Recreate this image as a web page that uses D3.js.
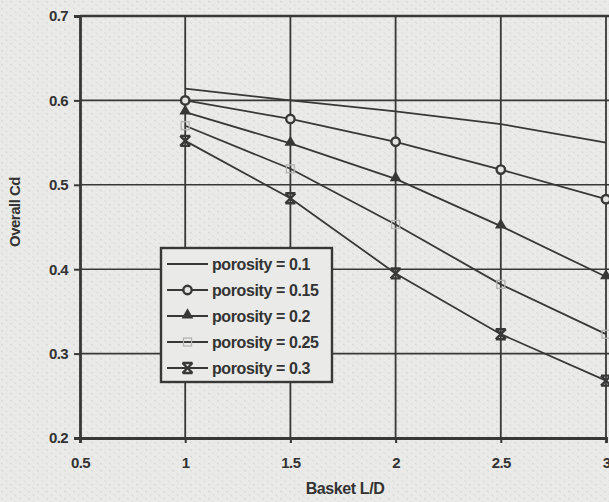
<!DOCTYPE html>
<html>
<head>
<meta charset="utf-8">
<script src="https://cdn.jsdelivr.net/npm/d3@7"></script>
<style>
  body { margin: 0; background: #e8e8e6; }
  text { font-family: "Liberation Sans", Arial, sans-serif; font-weight: bold; fill: #333333; }
</style>
</head>
<body>
<div id="chart"></div>
<script>
// Basket L/D values
var ld = [1, 1.5, 2, 2.5, 3];
var xTicks = [0.5, 1, 1.5, 2, 2.5, 3];
var yTicks = [0.2, 0.3, 0.4, 0.5, 0.6, 0.7];

// Overall Cd for each porosity
var por010 = [0.614, 0.600, 0.587, 0.572, 0.550];
var por015 = [0.600, 0.578, 0.551, 0.518, 0.483];
var por020 = [0.586, 0.549, 0.507, 0.451, 0.391];
var por025 = [0.570, 0.519, 0.453, 0.382, 0.323];
var por030 = [0.552, 0.484, 0.395, 0.323, 0.268];

var seriesNames = ["porosity = 0.1", "porosity = 0.15", "porosity = 0.2", "porosity = 0.25", "porosity = 0.3"];
var seriesValues = [por010, por015, por020, por025, por030];
var markers = ["none", "circle", "triangle", "square", "star"];

function init() {
    var w = 609;
    var h = 502;

    var svg = d3.select("#chart")
                .append("svg")
                .attr("width", w)
                .attr("height", h);

    // scanned paper texture
    var defs = svg.append("defs");
    var pat = defs.append("pattern")
        .attr("id", "paper")
        .attr("width", 9)
        .attr("height", 7)
        .attr("patternUnits", "userSpaceOnUse");
    pat.append("rect").attr("width", 9).attr("height", 7).attr("fill", "#eaeae8");
    pat.append("line")
        .attr("x1", 1).attr("y1", 1).attr("x2", 3).attr("y2", 2.5)
        .attr("stroke", "#d4d4d2").attr("stroke-width", 1);
    pat.append("line")
        .attr("x1", 5.5).attr("y1", 4.5).attr("x2", 7.5).attr("y2", 6)
        .attr("stroke", "#d8d8d6").attr("stroke-width", 1);

    svg.append("rect")
        .attr("width", w).attr("height", h)
        .attr("fill", "url(#paper)");

    var xScale = d3.scaleLinear().domain([0.5, 3]).range([80, 606]);
    var yScale = d3.scaleLinear().domain([0.2, 0.7]).range([438, 16]);

    var ink = "#383838";

    // gridlines
    svg.append("g").selectAll("line")
        .data(yTicks.slice(1))
        .enter().append("line")
        .attr("x1", xScale(0.5)).attr("x2", w)
        .attr("y1", function(d) { return yScale(d); })
        .attr("y2", function(d) { return yScale(d); })
        .attr("stroke", ink)
        .attr("stroke-width", function(d) { return d === 0.7 ? 2.5 : 1.6; });

    svg.append("g").selectAll("line")
        .data(xTicks.slice(1))
        .enter().append("line")
        .attr("x1", function(d) { return xScale(d); })
        .attr("x2", function(d) { return xScale(d); })
        .attr("y1", yScale(0.7)).attr("y2", yScale(0.2))
        .attr("stroke", ink)
        .attr("stroke-width", 1.8);

    // axes
    var xAxis = d3.axisBottom(xScale).tickValues(xTicks)
        .tickFormat(d3.format("")).tickSize(5).tickPadding(14);
    var yAxis = d3.axisLeft(yScale).tickValues(yTicks)
        .tickFormat(d3.format(".1f")).tickSize(6).tickPadding(6);

    var gx = svg.append("g")
        .attr("transform", "translate(0," + yScale(0.2) + ")")
        .call(xAxis);
    var gy = svg.append("g")
        .attr("transform", "translate(" + xScale(0.5) + ",0)")
        .call(yAxis);

    [gx, gy].forEach(function(g) {
        g.select(".domain").attr("stroke", ink).attr("stroke-width", 2.8);
        g.selectAll(".tick line").attr("stroke", ink).attr("stroke-width", 2);
        g.selectAll(".tick text")
            .style("font-family", "'Liberation Sans', Arial, sans-serif")
            .style("font-weight", "bold")
            .style("font-size", "15px")
            .style("letter-spacing", "-0.6px")
            .attr("fill", "#333333");
    });

    // axis titles
    svg.append("text")
        .attr("x", 345).attr("y", 494)
        .attr("text-anchor", "middle")
        .style("font-size", "16px")
        .style("letter-spacing", "-0.4px")
        .text("Basket L/D");

    svg.append("text")
        .attr("transform", "translate(20,212) rotate(-90)")
        .attr("text-anchor", "middle")
        .style("font-size", "15px")
        .style("letter-spacing", "-0.5px")
        .text("Overall Cd");

    var line = d3.line()
        .x(function(d, i) { return xScale(ld[i]); })
        .y(function(d) { return yScale(d); });

    function drawMarker(g, type, x, y) {
        if (type === "circle") {
            g.append("circle").attr("cx", x).attr("cy", y).attr("r", 4.2)
                .attr("fill", "#e4e4e2").attr("stroke", ink).attr("stroke-width", 2.4);
        } else if (type === "triangle") {
            g.append("path")
                .attr("d", d3.symbol().type(d3.symbolTriangle).size(60)())
                .attr("transform", "translate(" + x + "," + (y - 1) + ")")
                .attr("fill", ink);
        } else if (type === "square") {
            g.append("rect").attr("x", x - 4).attr("y", y - 4)
                .attr("width", 8).attr("height", 8)
                .attr("fill", "none").attr("stroke", "#b4b4b2").attr("stroke-width", 1.3);
        } else if (type === "star") {
            g.append("path")
                .attr("d", "M" + (x - 5) + "," + (y - 5) + "L" + (x + 5) + "," + (y + 5) +
                           "M" + (x + 5) + "," + (y - 5) + "L" + (x - 5) + "," + (y + 5) +
                           "M" + (x - 5) + "," + (y - 5) + "L" + (x + 5) + "," + (y - 5) +
                           "M" + (x - 5) + "," + (y + 5) + "L" + (x + 5) + "," + (y + 5))
                .attr("stroke", ink).attr("stroke-width", 2.4).attr("fill", "none");
        }
    }

    // series
    seriesValues.forEach(function(vals, k) {
        var g = svg.append("g");
        g.append("path")
            .datum(vals)
            .attr("d", line)
            .attr("fill", "none")
            .attr("stroke", ink)
            .attr("stroke-width", 1.8);
        vals.forEach(function(v, i) {
            drawMarker(g, markers[k], xScale(ld[i]), yScale(v));
        });
    });

    // legend
    var lg = svg.append("g");
    lg.append("rect")
        .attr("x", 161).attr("y", 248)
        .attr("width", 171).attr("height", 134)
        .attr("fill", "#eaeae8")
        .attr("stroke", ink).attr("stroke-width", 2.4);

    seriesNames.forEach(function(name, k) {
        var ly = 264 + k * 26;
        lg.append("line")
            .attr("x1", 167).attr("x2", 208)
            .attr("y1", ly).attr("y2", ly)
            .attr("stroke", ink).attr("stroke-width", 1.8);
        drawMarker(lg, markers[k], 187.5, ly);
        lg.append("text")
            .attr("x", 212).attr("y", ly + 5.5)
            .style("font-size", "16px")
            .style("letter-spacing", "-0.4px")
            .text(name);
    });
}
window.onload = init;
</script>
</body>
</html>
